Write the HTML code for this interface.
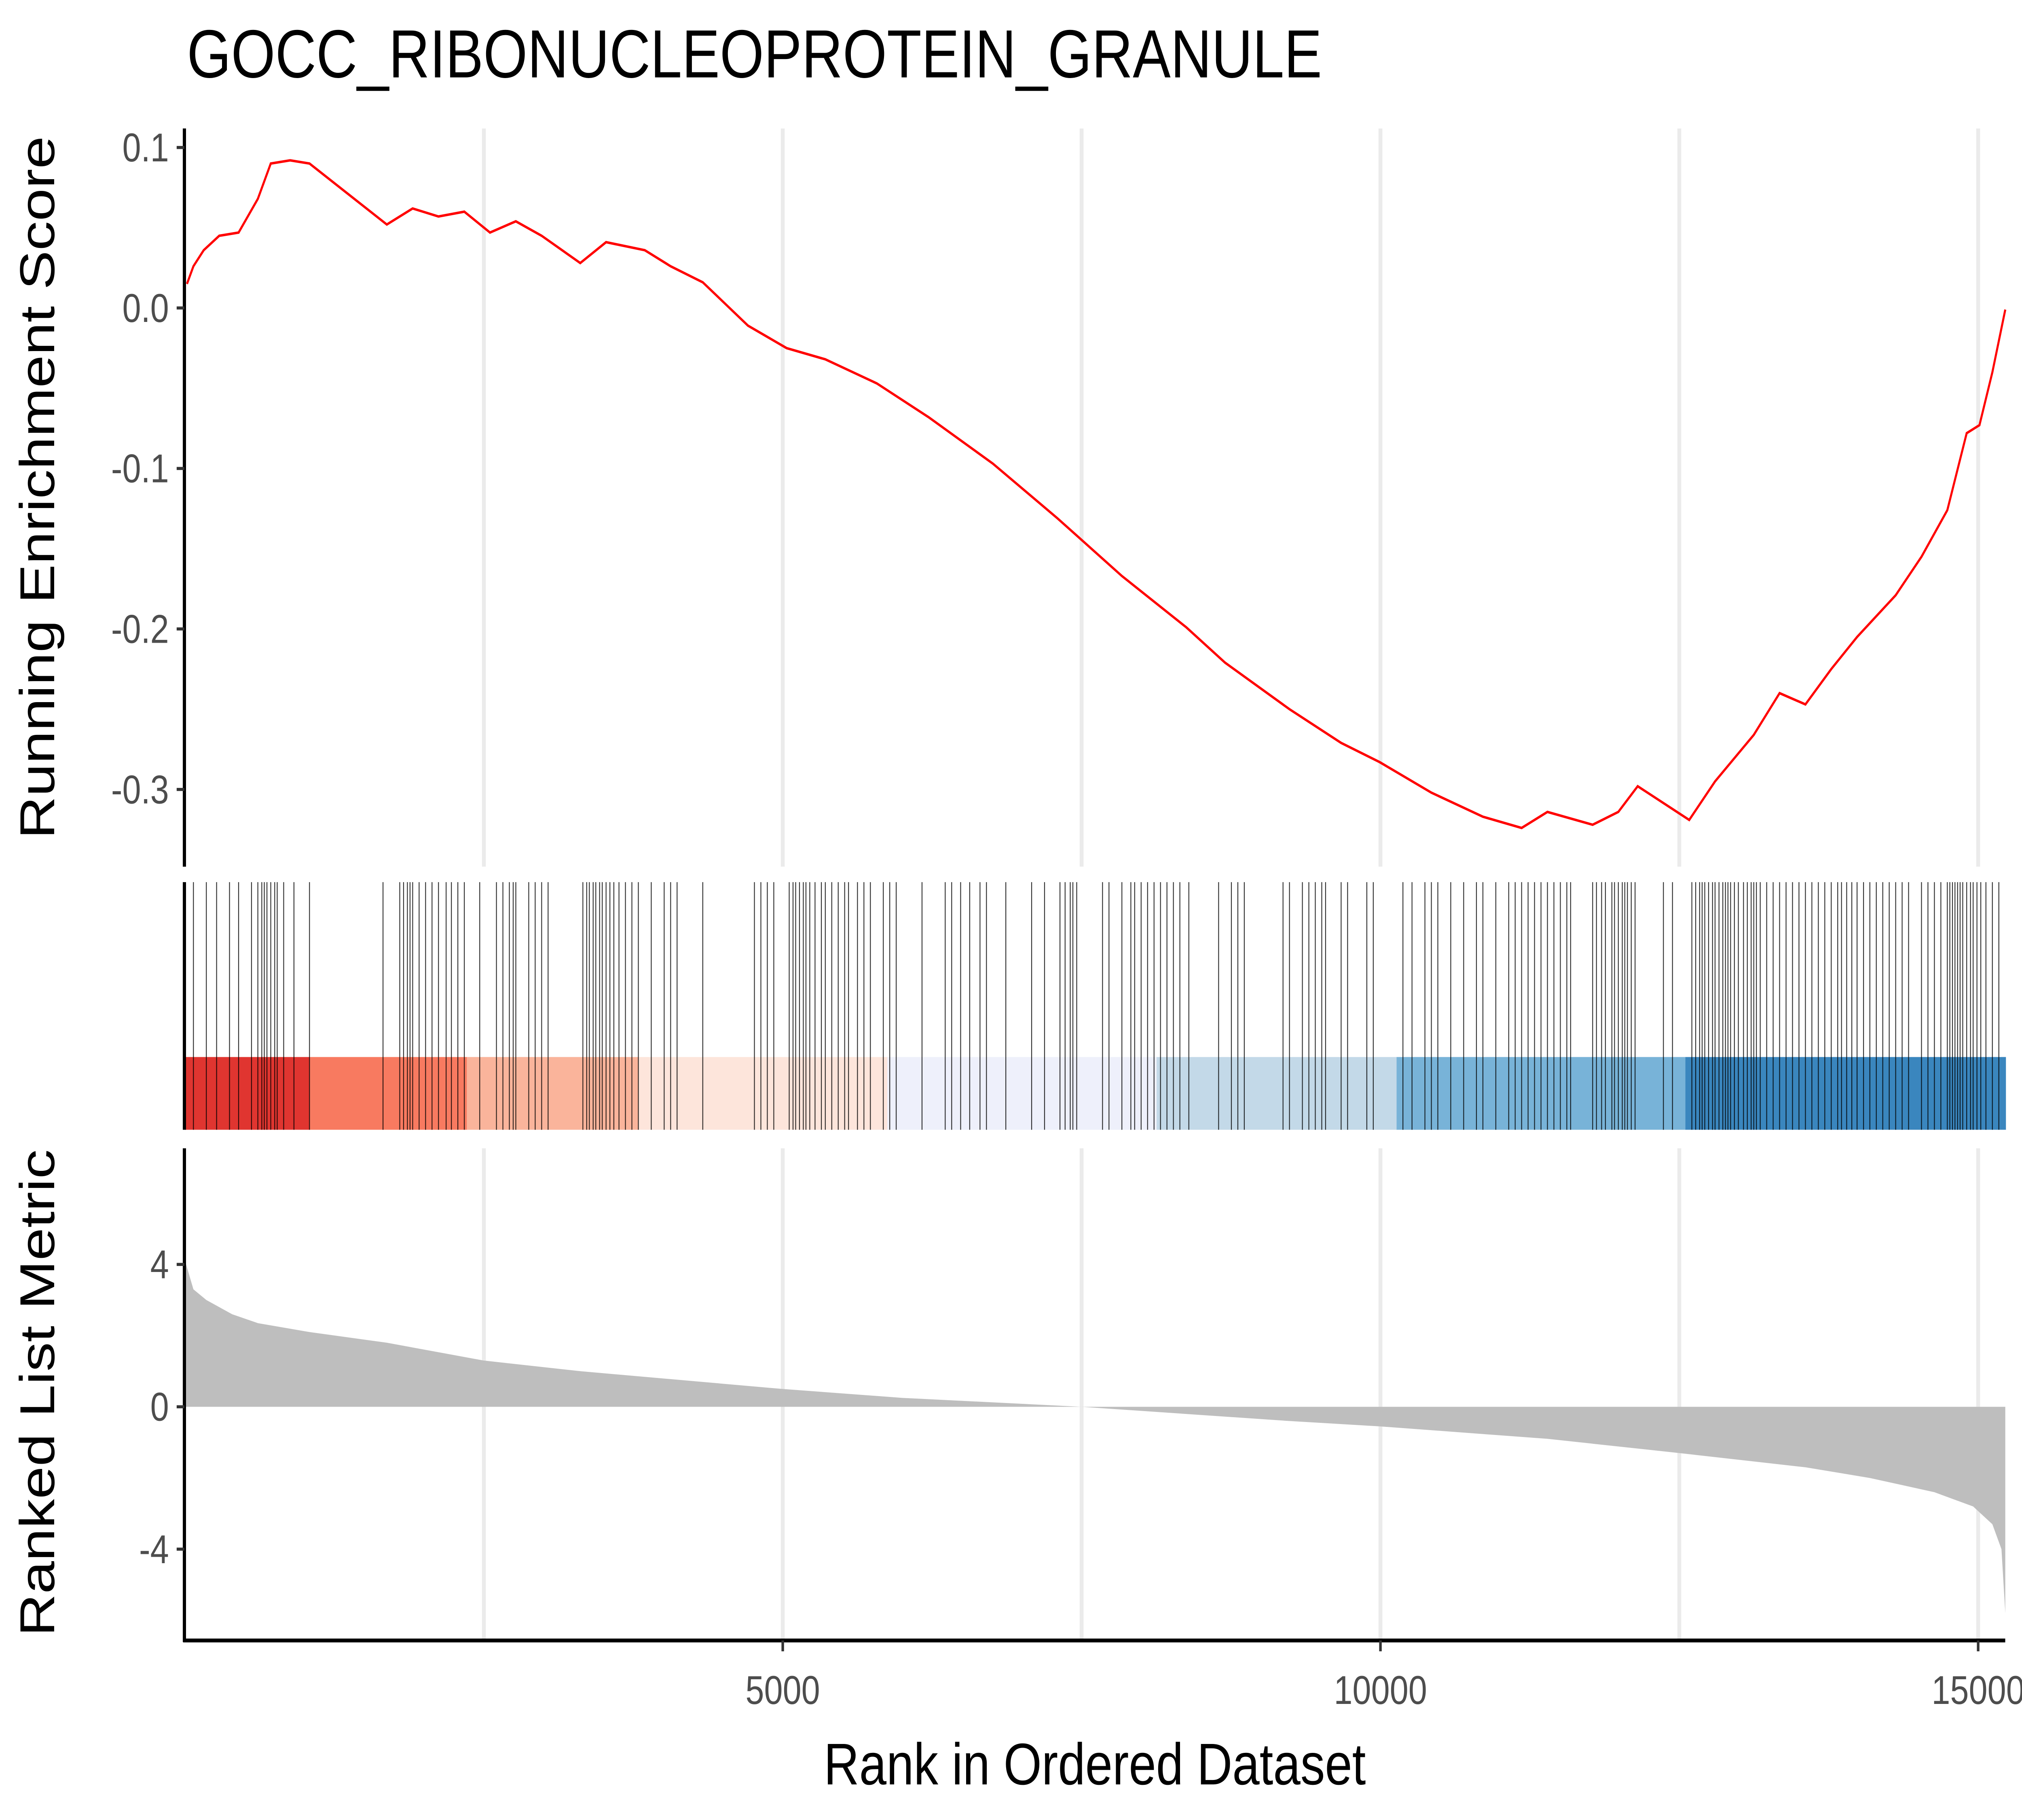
<!DOCTYPE html>
<html><head><meta charset="utf-8"><style>
html,body{margin:0;padding:0;background:#fff;width:100%;height:100%;overflow:hidden}
svg{display:block;width:100vw;height:100vh;font-family:"Liberation Sans",Arial,sans-serif}
</style></head><body>
<svg id="chart" xmlns="http://www.w3.org/2000/svg" viewBox="0 0 1568 1176" preserveAspectRatio="none">
<rect width="1568" height="1176" fill="#fff"/>
<text x="145" y="50" font-size="44" fill="#000">GOCC_RIBONUCLEOPROTEIN_GRANULE</text>
<g id="grid"></g>
<g id="colorbar"></g>
<g id="hits"></g>
<g id="metric"></g>
<g id="es"></g>
<g id="axes"></g>
<text transform="translate(42,315) rotate(-90)" text-anchor="middle" font-size="38">Running Enrichment Score</text>
<text transform="translate(42,900) rotate(-90)" text-anchor="middle" font-size="38">Ranked List Metric</text>
<text x="849" y="1153" text-anchor="middle" font-size="38">Rank in Ordered Dataset</text>
</svg>
<script>
const esRanks=[16,70,156,286,448,609,717,879,1041,1688,1904,2120,2336,2551,2767,2983,3306,3522,3846,4062,4331,4709,5032,5356,5787,6219,6758,7297,7837,8376,8700,9239,9671,9994,10426,10857,11181,11397,11775,11990,12152,12583,12799,13123,13339,13555,13771,13987,14310,14526,14742,14904,15011,15119,15227];
const esValues=[0.015,0.026,0.036,0.045,0.047,0.068,0.09,0.092,0.09,0.052,0.062,0.057,0.06,0.047,0.054,0.045,0.028,0.041,0.036,0.026,0.016,-0.011,-0.025,-0.032,-0.047,-0.068,-0.097,-0.131,-0.167,-0.199,-0.221,-0.25,-0.271,-0.283,-0.302,-0.317,-0.324,-0.314,-0.322,-0.314,-0.298,-0.319,-0.295,-0.266,-0.24,-0.247,-0.225,-0.205,-0.179,-0.155,-0.126,-0.078,-0.073,-0.04,-0.001];
const hitRanks=[70,178,264,372,448,556,609,642,663,685,717,750,771,825,911,1041,1656,1796,1828,1860,1882,1904,1958,2012,2066,2120,2184,2228,2282,2336,2465,2605,2659,2713,2745,2767,2875,2929,2983,3037,3328,3360,3382,3414,3436,3468,3490,3522,3554,3587,3630,3684,3738,3792,3900,4008,4062,4116,4331,4763,4817,4871,4925,5054,5086,5108,5140,5172,5194,5226,5270,5323,5356,5410,5464,5518,5550,5625,5679,5733,5841,5895,5949,6165,6359,6413,6488,6564,6650,6704,6866,7082,7190,7319,7362,7405,7427,7459,7675,7729,7837,7912,7944,7998,8052,8106,8160,8214,8268,8322,8397,8646,8753,8807,8861,9185,9239,9347,9401,9455,9509,9541,9671,9725,9886,9940,10188,10264,10372,10426,10480,10588,10696,10803,10857,10965,11073,11127,11181,11235,11289,11343,11397,11451,11505,11559,11591,11775,11807,11850,11882,11936,11958,11990,12023,12044,12066,12098,12130,12367,12443,12605,12637,12670,12691,12713,12745,12778,12799,12832,12864,12886,12907,12929,12961,12994,13037,13069,13101,13123,13145,13177,13231,13285,13339,13393,13447,13501,13555,13609,13663,13717,13771,13825,13857,13900,13943,13987,14041,14094,14148,14202,14256,14310,14364,14418,14526,14580,14634,14688,14742,14763,14785,14806,14828,14849,14871,14904,14936,14958,14990,15022,15065,15119,15173];
const metricRanks=[0,70,178,394,609,1041,1688,2497,3306,5000,6003,7500,9239,9994,11397,12500,13555,14094,14634,14958,15119,15195,15227];
const metricValues=[4.1,3.3,3.0,2.6,2.35,2.1,1.8,1.3,1.0,0.5,0.25,0,-0.4,-0.55,-0.9,-1.3,-1.7,-2.0,-2.4,-2.8,-3.3,-4.0,-5.8];
const bandBreaks=[0,1041,2357,3792,5874,8128,10135,12551,15227];
const bandColors=["#E03530","#F87A60","#FAB49B","#FDE5DB","#EEF0FB","#C3D9E8","#78B3D8","#3A86BE"];
const xTicks=[5000,10000,15000];
const gridRanks=[2500,5000,7500,10000,12500,15000];
const esTicks=[0.1,0,-0.1,-0.2,-0.3];
const esTickLabels=["0.1","0.0","-0.1","-0.2","-0.3"];
const metricTicks=[4,0,-4];
const metricTickLabels=["4","0","-4"];

const NS="http://www.w3.org/2000/svg";
const X0=143.5,XR=1555;
const x=r=>X0+r*0.0927;
const yES=v=>199-v*1037;
const yM=v=>909-v*23;
function mk(tag,attrs,parent){const e=document.createElementNS(NS,tag);for(const k in attrs)e.setAttribute(k,attrs[k]);parent.appendChild(e);return e;}
const G=id=>document.getElementById(id);

gridRanks.forEach(r=>{
  let l=mk('line',{x1:x(r),x2:x(r),y1:83,y2:560,stroke:'#ebebeb','stroke-width':3},G('grid'));
  
  
  let l2=mk('line',{x1:x(r),x2:x(r),y1:742,y2:1060,stroke:'#ebebeb','stroke-width':3},G('grid'));
  
  
});
bandColors.forEach((c,i)=>{
  let r=mk('rect',{x:x(bandBreaks[i]),y:683,width:x(bandBreaks[i+1])-x(bandBreaks[i])+0.5,height:47,fill:c},G('colorbar'));
  
  
});
hitRanks.forEach(h=>{
  let l=mk('line',{x1:x(h),x2:x(h),y1:570,y2:730,stroke:'#000','stroke-width':0.7,'stroke-opacity':0.8},G('hits'));
  
  
});
let d='M'+x(metricRanks[0])+','+yM(0);
metricRanks.forEach((r,i)=>{d+=' L'+x(r)+','+yM(metricValues[i]);});
d+=' L'+x(metricRanks[metricRanks.length-1])+','+yM(0)+' Z';
let ma=mk('path',{d:d,fill:'#bebebe'},G('metric'));


let pd=esRanks.map((r,i)=>(i?'L':'M')+x(r)+','+yES(esValues[i])).join(' ');
let el=mk('path',{d:pd,fill:'none',stroke:'#ff0000','stroke-width':1.6},G('es'));


const A=G('axes');
let a1=mk('line',{x1:143,x2:143,y1:83,y2:560,stroke:'#000','stroke-width':2.5},A);


let a2=mk('line',{x1:143,x2:143,y1:570,y2:730,stroke:'#000','stroke-width':2.5},A);


let a3=mk('line',{x1:143,x2:143,y1:742,y2:1061,stroke:'#000','stroke-width':2.5},A);


let a4=mk('line',{x1:142,x2:XR,y1:1060,y2:1060,stroke:'#000','stroke-width':2.5},A);


esTicks.forEach((v,i)=>{
  let t=mk('line',{x1:137,x2:143,y1:yES(v),y2:yES(v),stroke:'#333','stroke-width':2},A);
  
  
  let tx=mk('text',{x:131,y:yES(v)+9,'text-anchor':'end','font-size':26,fill:'#4d4d4d'},A);
  tx.textContent=esTickLabels[i];
  
  
});
metricTicks.forEach((v,i)=>{
  let t=mk('line',{x1:137,x2:143,y1:yM(v),y2:yM(v),stroke:'#333','stroke-width':2},A);
  
  
  let tx=mk('text',{x:131,y:yM(v)+9,'text-anchor':'end','font-size':26,fill:'#4d4d4d'},A);
  tx.textContent=metricTickLabels[i];
  
  
});
xTicks.forEach(r=>{
  let t=mk('line',{x1:x(r),x2:x(r),y1:1060,y2:1067,stroke:'#333','stroke-width':2},A);
  
  
  let tx=mk('text',{x:x(r),y:1101,'text-anchor':'middle','font-size':26,fill:'#4d4d4d'},A);
  tx.textContent=String(r);
  
  
});
</script>
</body></html>
